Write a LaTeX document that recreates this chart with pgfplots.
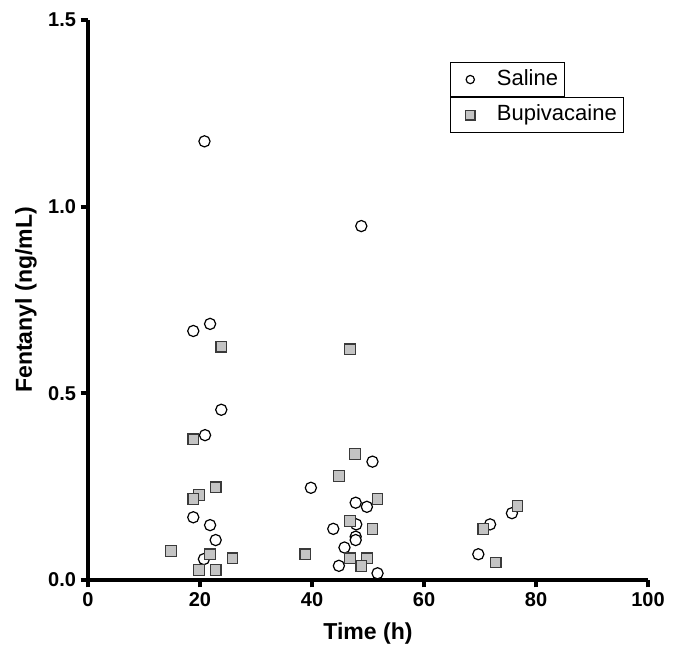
\documentclass[border=0pt]{standalone}
\usepackage{fontspec}
\setmainfont{Liberation Sans}
\usepackage{pgfplots}
\pgfplotsset{compat=1.18}
\definecolor{bupfill}{HTML}{C4C4C4}
\definecolor{bupedge}{HTML}{3A3A3A}

\pgfplotsset{
  fentbase/.style={
    scale only axis, width=420pt, height=420pt,
    xmin=0, xmax=100, ymin=0, ymax=1.5,
    clip=false,
  },
  fentlegend/.style={
    legend style={draw=black, line width=0.75pt, anchor=north west,
      font=\fontsize{16.5}{19}\selectfont, inner sep=0pt, column sep=0pt,
      nodes={inner xsep=5pt, inner ysep=5.25pt, text height=12pt, text depth=3.5pt}},
    legend cell align=left,
  },
}

\begin{document}
\begin{tikzpicture}
\begin{axis}[fentbase, fentlegend, name=a,
  axis x line*=bottom, axis y line*=left,
  axis line style={line width=3pt, -},
  xtick={0,20,40,60,80,100}, ytick={0,0.5,1,1.5},
  tick align=outside, major tick length=5.5pt,
  tick style={line width=3pt, black},
  y tick label style={/pgf/number format/.cd, fixed, fixed zerofill, precision=1, /tikz/.cd},
  /pgf/number format/assume math mode=true,
  ticklabel style={font=\bfseries\fontsize{15}{17}\selectfont},
  xlabel={Time (h)}, ylabel={Fentanyl (ng/mL)},
  label style={font=\bfseries\fontsize{17.3}{19}\selectfont},
  xlabel style={at={(axis description cs:0.5,-0.0964)}, anchor=center},
  ylabel style={at={(axis description cs:-0.1107,0.5)}, anchor=center},
  legend style={at={(0.646,0.9255)}},
  legend image code/.code={
    \path[draw=none] (-15pt,0pt) -- (15pt,0pt);
    \draw[#1, mark size=3.1pt] plot coordinates {(0pt,0pt)};
  },
]
\addplot[only marks, mark=*, mark size=4.2pt, mark options={fill=white, draw=black, line width=0.9pt}]
  coordinates {(20.8,1.175) (21.8,0.686) (18.8,0.667) (23.8,0.456) (20.9,0.388) (18.8,0.168)
  (21.8,0.147) (22.8,0.107) (20.7,0.056) (48.8,0.948) (50.8,0.317) (39.8,0.247) (47.8,0.207)
  (49.8,0.196) (47.9,0.149) (43.8,0.137) (47.8,0.116) (47.8,0.107) (45.8,0.087) (44.8,0.038)
  (51.7,0.018) (75.7,0.179) (71.8,0.149) (69.7,0.069)};
\addlegendentry{Saline}
\end{axis}
\begin{axis}[fentbase, fentlegend, hide axis,
  legend style={at={(0.646,0.862)}},
  legend image code/.code={
    \path[draw=none] (-15pt,0pt) -- (15pt,0pt);
    \draw[#1, mark size=3.6pt] plot coordinates {(0pt,0pt)};
  },
]
\addplot[only marks, mark=square*, mark size=4pt, mark options={fill=bupfill, draw=bupedge, line width=0.9pt}]
  coordinates {(23.8,0.625) (18.8,0.377) (22.8,0.248) (19.8,0.228) (18.8,0.217) (14.8,0.078)
  (21.8,0.069) (25.8,0.058) (19.8,0.027) (22.8,0.027) (46.8,0.618) (47.7,0.338) (44.8,0.279)
  (51.7,0.217) (46.8,0.158) (50.8,0.137) (38.8,0.069) (46.8,0.058) (49.8,0.058) (48.8,0.038)
  (76.7,0.198) (70.6,0.137) (72.8,0.047)};
\addlegendentry{Bupivacaine}
\end{axis}
\pgfresetboundingbox
\path[use as bounding box] (a.south west) ++(-66pt,-49.5pt) rectangle ([shift={(21.75pt,15pt)}]a.north east);
\end{tikzpicture}
\end{document}
